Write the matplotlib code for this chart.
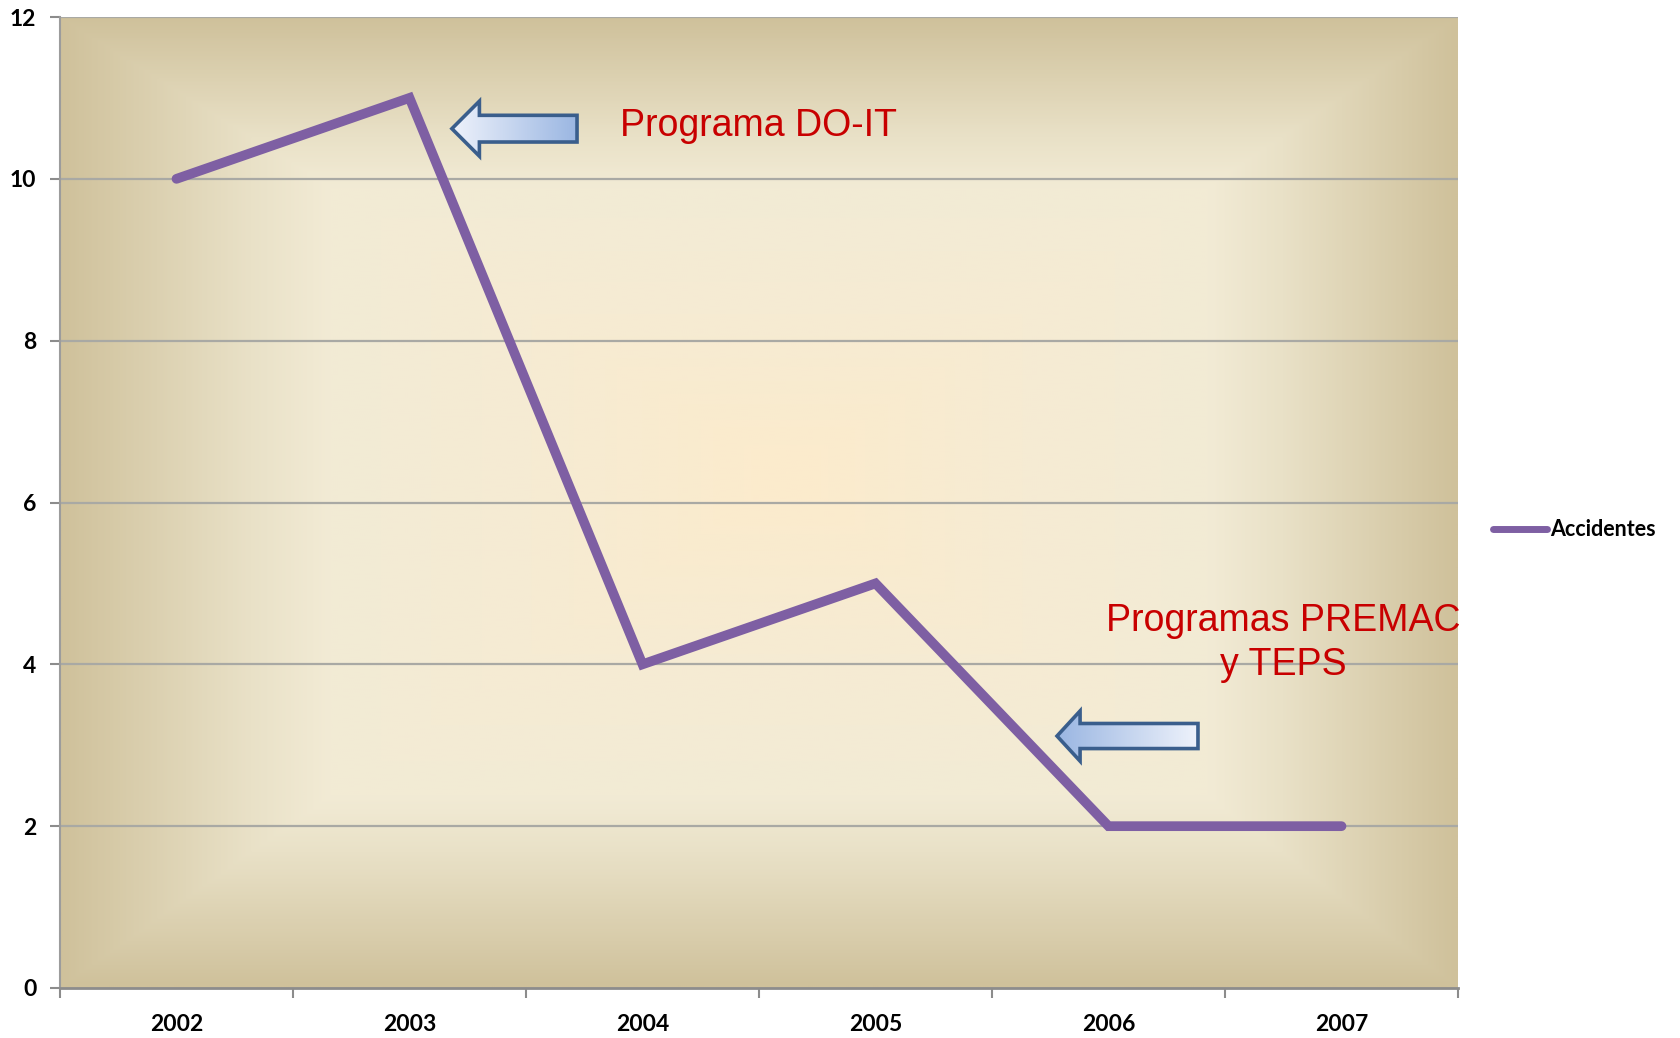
import matplotlib
matplotlib.use('Agg')
import matplotlib.pyplot as plt
import numpy as np
from matplotlib.colors import LinearSegmentedColormap
from matplotlib.patches import Polygon

# data
years = ['2002', '2003', '2004', '2005', '2006', '2007']
accidentes = [10, 11, 4, 5, 2, 2]
y_ticks = [0, 2, 4, 6, 8, 10, 12]

line_color = '#7e5fa3'
grid_color = '#a9a9a4'
text_red = '#c80000'


def background(ax):
    """Rectangular 'from center' gradient like the Excel parchment fill."""
    nx, ny = 700, 500
    xs = np.linspace(0, 1, nx)
    ys = np.linspace(0, 1, ny)
    X, Y = np.meshgrid(xs, ys)
    cx, cy = 0.52, 0.53  # centre in axes fraction (from bottom)
    u = np.where(X < cx, (cx - X) / cx, (X - cx) / (1 - cx))
    v = np.where(Y < cy, (cy - Y) / cy, (Y - cy) / (1 - cy))
    t = np.maximum(u, v)
    cmap = LinearSegmentedColormap.from_list('parch', [
        (0.0, '#fcebcc'),
        (0.35, '#f6ebd3'),
        (0.63, '#f2ebd5'),
        (0.74, '#e9e1c7'),
        (1.0, '#cfc19b'),
    ])
    ax.imshow(cmap(t), extent=(-0.5, 5.5, 0, 12), origin='lower',
              aspect='auto', zorder=0, interpolation='bilinear')


def draw_arrow(ax, tip_x, tip_y, head_x, tail_x, head_half, body_half, c_tip, c_tail):
    pts = [
        (tip_x, tip_y),
        (head_x, tip_y + head_half),
        (head_x, tip_y + body_half),
        (tail_x, tip_y + body_half),
        (tail_x, tip_y - body_half),
        (head_x, tip_y - body_half),
        (head_x, tip_y - head_half),
    ]
    poly = Polygon(pts, closed=True, facecolor='none', edgecolor='#3a5e8c',
                   linewidth=2.6, joinstyle='miter', zorder=6)
    ax.add_patch(poly)
    cmap = LinearSegmentedColormap.from_list('arr', [c_tip, c_tail])
    grad = np.linspace(0, 1, 200).reshape(1, -1)
    im = ax.imshow(cmap(grad), extent=(tip_x, tail_x, tip_y - head_half, tip_y + head_half),
                   aspect='auto', zorder=5, interpolation='bilinear')
    im.set_clip_path(poly)


fig = plt.figure(figsize=(16.8, 10.38), dpi=100)
ax = fig.add_axes([60 / 1680, 50 / 1038, 1398 / 1680, 971 / 1038])

background(ax)

x = np.arange(len(years))
ax.plot(x, accidentes, color=line_color, linewidth=7, solid_capstyle='round',
        solid_joinstyle='miter', zorder=4, label='Accidentes')

ax.set_xlim(-0.5, len(years) - 0.5)
ax.set_ylim(0, 12)

# grid lines
for yv in y_ticks[1:]:
    ax.axhline(yv, color=grid_color, linewidth=1.6, zorder=2)

ax.set_yticks(y_ticks)
ax.set_yticklabels([str(v) for v in y_ticks])
ax.set_xticks(x)
ax.set_xticklabels(years)
ax.set_xticks(np.arange(-0.5, len(years)), minor=True)

for lab in ax.get_yticklabels() + ax.get_xticklabels():
    lab.set_fontfamily('Lato')
    lab.set_fontweight('bold')
    lab.set_fontsize(16.5)

ax.tick_params(axis='y', which='major', length=7, width=1.5, color='#8c8c8c', pad=10)
ax.tick_params(axis='x', which='major', length=0, pad=19)
ax.tick_params(axis='x', which='minor', length=7, width=1.5, color='#8c8c8c')

for side in ['top', 'right']:
    ax.spines[side].set_visible(False)
ax.spines['left'].set_color('#9c9c9c')
ax.spines['left'].set_linewidth(1.5)
ax.spines['bottom'].set_color('#8c8c8c')
ax.spines['bottom'].set_linewidth(2.0)

# annotations
draw_arrow(ax, 1.182, 10.62, 1.30, 1.719, 0.34, 0.165, '#eef2fb', '#9ab6e2')
draw_arrow(ax, 3.779, 3.114, 3.878, 4.384, 0.31, 0.155, '#9ab6e2', '#eef2fb')

ax.text(1.903, 10.65, 'Programa DO-IT', color=text_red, fontsize=27,
        family='Liberation Sans', ha='left', va='center', zorder=7)
ax.text(4.749, 4.26, 'Programas PREMAC\ny TEPS', color=text_red, fontsize=27,
        family='Liberation Sans', ha='center', va='center', linespacing=1.28, zorder=7)

leg = fig.legend(loc='center left', bbox_to_anchor=(1493 / 1680, 1 - 530 / 1038),
                 frameon=False, handlelength=2.5, handletextpad=0.15, borderpad=0,
                 borderaxespad=0, prop=dict(family='Lato', weight='bold', size=15.5))
for h in leg.get_lines():
    h.set_linewidth(5)

fig.savefig('out.png', dpi=100)
